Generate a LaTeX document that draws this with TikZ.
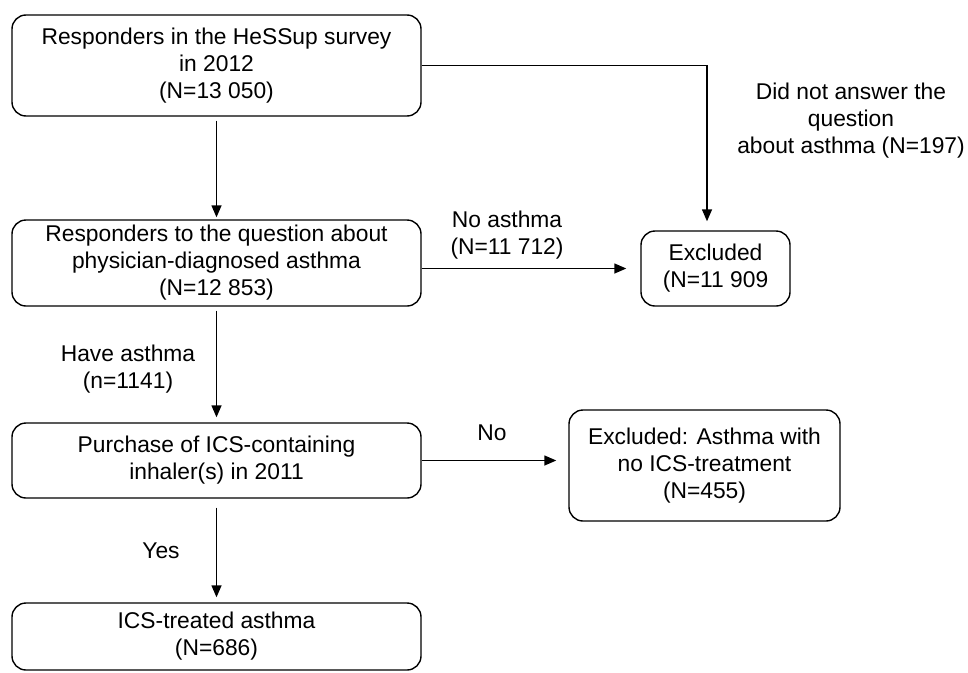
\documentclass[tikz,border=0pt]{standalone}
\usepackage{fontspec}
\setmainfont{Liberation Sans}
\usetikzlibrary{arrows.meta,positioning}

\begin{document}
\begin{tikzpicture}[x=1pt,y=-1pt,
    font=\fontsize{22.8}{27}\selectfont,
    flowbox/.style={draw,line width=1.4pt,rounded corners=14pt,align=center,inner sep=0pt},
    mainbox/.style={flowbox,minimum width=409pt},
    flowline/.style={line width=1.4pt,-{Triangle[length=12pt,width=10pt]}},
    lbl/.style={align=center,inner sep=0pt}]
  \useasboundingbox (0,0) rectangle (968,672);
  % main column
  \node[mainbox,minimum height=101pt] (resp) at (216.5,65.5) {Responders in the HeSSup survey\\in 2012\\(N=13 050)};
  \node[mainbox,minimum height=86pt] (quest) at (216.5,263) {Responders to the question about\\physician-diagnosed asthma\\(N=12 853)};
  \node[mainbox,minimum height=75pt] (purch) at (216.5,460.5) {Purchase of ICS-containing\\inhaler(s) in 2011};
  \node[mainbox,minimum height=67pt] (treat) at (216.5,636.5) {ICS-treated asthma\\(N=686)};
  % excluded boxes
  \node[flowbox,minimum width=149pt,minimum height=75pt] (excl) at (715.5,268.5) {Excluded\\(N=11 909};
  \node[flowbox,minimum width=271pt,minimum height=111pt] (exclics) at (704.5,465.5) {Excluded: Asthma with\\no ICS-treatment\\(N=455)};
  \coordinate (turn) at (707,65.5);
  % connectors
  \draw[flowline,shorten <=4pt,shorten >=2pt] (resp) -- (quest);
  \draw[flowline,shorten <=4pt,shorten >=5pt] (quest) -- (purch);
  \draw[flowline,shorten <=9pt,shorten >=5pt] (purch) -- (treat);
  \draw[flowline,shorten >=9pt] (resp.east) -- (turn) -- (turn |- excl.north);
  \draw[flowline,shorten >=14pt] (quest.east |- excl.west) -- (excl.west);
  \draw[flowline,shorten >=12pt] (purch.east) -- (purch.east -| exclics.west);
  % labels
  \node[lbl] (noasth) at (507,235) {No asthma\\(N=11 712)};
  \node[lbl] (noans) at (851,121) {Did not answer the\\question\\about asthma (N=197)};
  \node[lbl] (haveasth) at (128,369) {Have asthma\\(n=1141)};
  \node[lbl] (noics) at (492,433) {No};
  \node[lbl] (yes) at (161,551) {Yes};
\end{tikzpicture}
\end{document}
